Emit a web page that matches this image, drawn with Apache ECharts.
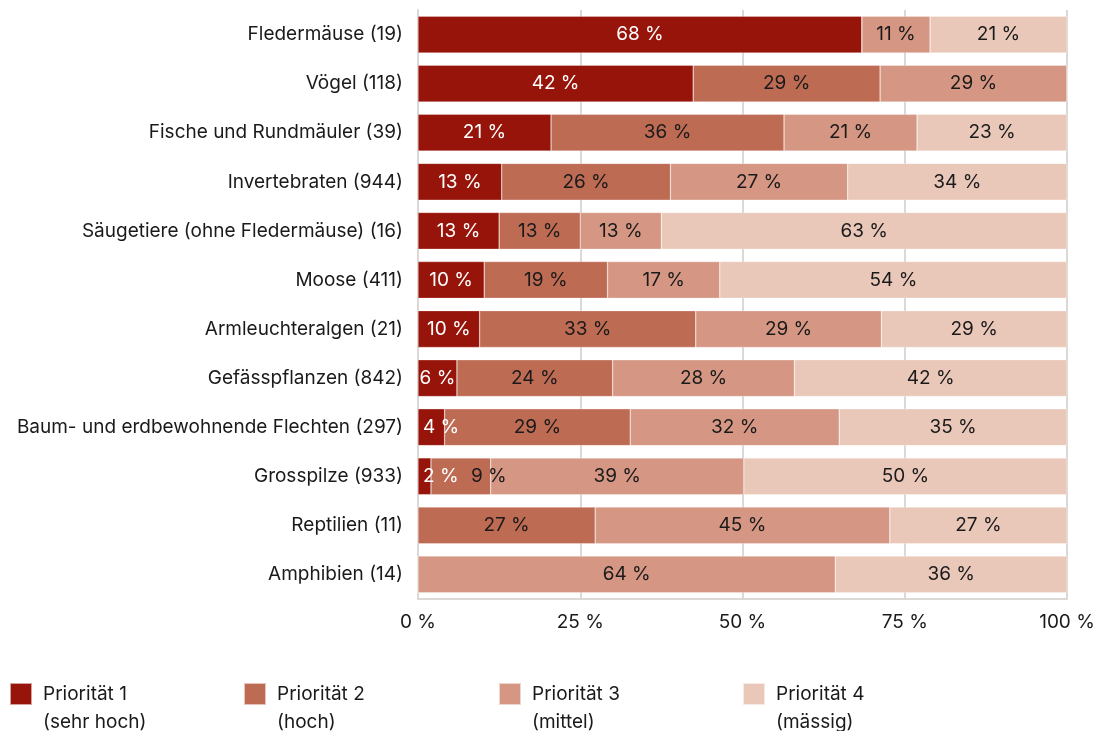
<!DOCTYPE html>
<html>
<head>
<meta charset="utf-8">
<script src="https://cdn.jsdelivr.net/npm/echarts@6/dist/echarts.min.js"></script>
<style>
  html, body { margin: 0; padding: 0; background: #fff; }
  #chart { width: 1101px; height: 731px; }
</style>
</head>
<body>
<div id="chart"></div>
<script>
// Kategorien (Anzahl Arten in Klammern)
const categories = [
  'Fledermäuse (19)',
  'Vögel (118)',
  'Fische und Rundmäuler (39)',
  'Invertebraten (944)',
  'Säugetiere (ohne Fledermäuse) (16)',
  'Moose (411)',
  'Armleuchteralgen (21)',
  'Gefässpflanzen (842)',
  'Baum- und erdbewohnende Flechten (297)',
  'Grosspilze (933)',
  'Reptilien (11)',
  'Amphibien (14)'
];

// Anteile in %
const prio1 = [68.4, 42.4, 20.5, 12.9, 12.5, 10.2, 9.5, 6.0, 4.1, 2.0, 0, 0];
const prio2 = [0, 28.8, 35.9, 26.0, 12.5, 19.0, 33.3, 24.0, 28.6, 9.2, 27.3, 0];
const prio3 = [10.5, 28.8, 20.5, 27.3, 12.5, 17.3, 28.6, 28.0, 32.2, 39.0, 45.4, 64.3];
const prio4 = [21.1, 0, 23.1, 33.8, 62.5, 53.5, 28.6, 42.0, 35.1, 49.8, 27.3, 35.7];

const seriesNames = ['Priorität 1', 'Priorität 2', 'Priorität 3', 'Priorität 4'];
const seriesSubs = ['(sehr hoch)', '(hoch)', '(mittel)', '(mässig)'];
const xTicks = [0, 25, 50, 75, 100];

const colors = ['#961409', '#be6b54', '#d59783', '#eac8b9'];
const labelColors = ['#ffffff', '#1a1a1a', '#1a1a1a', '#1a1a1a'];
const FONT = 'Inter, "Noto Sans", sans-serif';

const allData = [prio1, prio2, prio3, prio4];

var myChart = echarts.init(document.getElementById('chart'));

const legendLeft = [9, 243, 498, 742];

// Beschriftung sehr schmaler Segmente verschieben, damit nichts überlappt
const buildData = (d, i) => d.map((v, j) => {
  if (v > 0 && v < 5) {
    return { value: v, label: { position: 'insideLeft', distance: 5 } };
  }
  const prev = i > 0 ? allData[i - 1][j] : 0;
  if (v > 0 && v < 15 && prev > 0 && prev < 5) {
    return { value: v, label: { offset: [28, 0] } };
  }
  return v;
});

myChart.setOption({
  animation: false,
  textStyle: { fontFamily: FONT },
  grid: {
    left: 418,
    right: 34,
    top: 10,
    bottom: 132,
  },
  legend: seriesNames.map((name, i) => ({
    data: [name],
    left: legendLeft[i],
    top: 649,
    padding: 0,
    icon: 'rect',
    itemWidth: 22,
    itemHeight: 22,
    selectedMode: false,
    // leere erste Zeile, damit die erste Textzeile auf Höhe des Symbols steht
    formatter: (n) => ' \n' + n + '\n' + seriesSubs[seriesNames.indexOf(n)],
    textStyle: {
      fontFamily: FONT,
      fontSize: 19,
      color: '#1a1a1a',
      lineHeight: 28,
      padding: [6, 0, 0, 6],
    },
  })),
  xAxis: {
    type: 'value',
    min: 0,
    max: 100,
    interval: 25,
    axisLabel: {
      fontFamily: FONT,
      fontSize: 19,
      color: '#1a1a1a',
      margin: 14,
      formatter: (v) => xTicks.indexOf(v) >= 0 ? v + ' %' : '',
    },
    axisLine: { show: true, lineStyle: { color: '#dcd8d5', width: 2 } },
    axisTick: { show: false },
    splitLine: { show: true, lineStyle: { color: '#dcd8d5', width: 2 } },
  },
  yAxis: {
    type: 'category',
    inverse: true,
    data: categories,
    axisLabel: {
      fontFamily: FONT,
      fontSize: 19,
      color: '#1a1a1a',
      margin: 15,
    },
    axisLine: { show: true, lineStyle: { color: '#dcd8d5', width: 2 } },
    axisTick: { show: false },
  },
  series: allData.map((d, i) => ({
    name: seriesNames[i],
    type: 'bar',
    stack: 'total',
    barWidth: '75%',
    data: buildData(d, i),
    itemStyle: {
      color: colors[i],
      borderColor: 'rgba(255,255,255,0.6)',
      borderWidth: 0.5,
    },
    label: {
      show: true,
      position: 'inside',
      fontFamily: FONT,
      fontSize: 19,
      color: labelColors[i],
      formatter: (p) => p.value > 0 ? Math.round(p.value) + ' %' : '',
    },
  })),
});
</script>
</body>
</html>
